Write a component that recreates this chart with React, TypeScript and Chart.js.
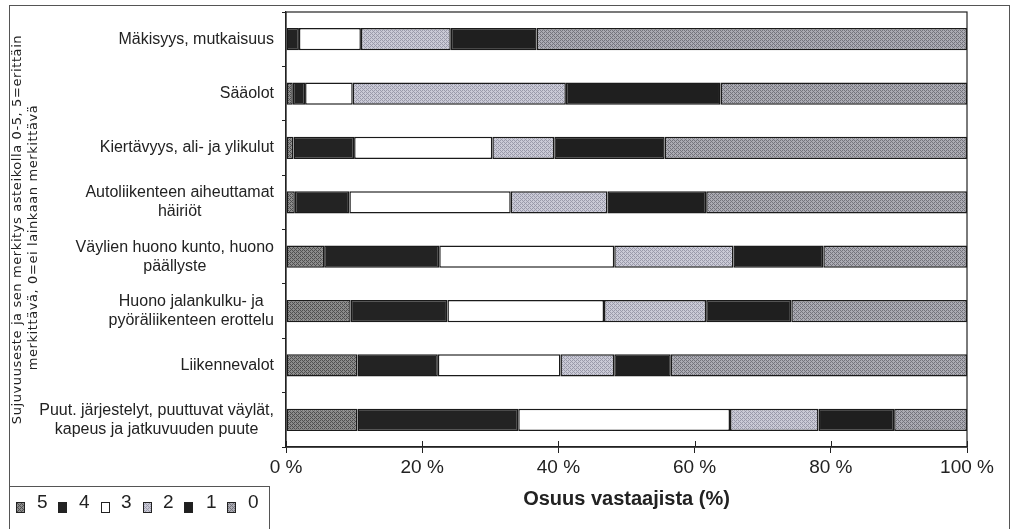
import React, { useEffect, useRef } from "react";
import { Chart, registerables } from "chart.js";

Chart.register(...registerables);

// ---------- data ----------
const categories: string[][] = [
  ["Mäkisyys, mutkaisuus"],
  ["Sääolot"],
  ["Kiertävyys, ali- ja ylikulut"],
  ["Autoliikenteen aiheuttamat", "häiriöt"],
  ["Väylien huono kunto, huono", "päällyste"],
  ["Huono jalankulku- ja", "pyöräliikenteen erottelu"],
  ["Liikennevalot"],
  ["Puut. järjestelyt, puuttuvat väylät,", "kapeus ja jatkuvuuden puute"],
];
const seriesNames = ["5", "4", "3", "2", "1", "0"];
const s5 = [0, 1.0, 1.1, 1.3, 5.6, 9.5, 10.5, 10.5];
const s4 = [1.9, 1.8, 8.9, 8.0, 16.9, 14.2, 11.8, 23.6];
const s3 = [9.1, 7.0, 20.3, 23.7, 25.7, 23.0, 18.0, 31.1];
const s2 = [13.2, 31.3, 9.1, 14.2, 17.5, 15.0, 7.9, 13.0];
const s1 = [12.6, 22.7, 16.2, 14.5, 13.2, 12.5, 8.3, 11.1];
const s0 = [63.2, 36.2, 44.4, 38.3, 21.1, 25.8, 43.5, 10.7];
const xTickLabels = ["0 %", "20 %", "40 %", "60 %", "80 %", "100 %"];
const xTitle = "Osuus vastaajista (%)";
const yTitle = [
  "Sujuvuuseste ja sen merkitys asteikolla 0-5, 5=erittäin",
  "merkittävä, 0=ei lainkaan merkittävä",
];

function makePattern(base: string, dot: string): CanvasPattern | string {
  const c = document.createElement("canvas");
  c.width = 4;
  c.height = 4;
  const g = c.getContext("2d");
  if (!g) return base;
  g.fillStyle = base;
  g.fillRect(0, 0, 4, 4);
  g.fillStyle = dot;
  g.fillRect(0, 0, 1, 1);
  g.fillRect(2, 2, 1, 1);
  g.fillRect(2, 0, 1, 1);
  g.fillRect(0, 2, 1, 1);
  g.fillRect(1, 3, 1, 1);
  g.fillRect(3, 1, 1, 1);
  const p = g.createPattern(c, "repeat");
  return p || base;
}

const FONT = '"Liberation Sans", Arial, sans-serif';

export default function App() {
  const ref = useRef<HTMLCanvasElement | null>(null);

  useEffect(() => {
    if (!ref.current) return;
    const fills = [
      makePattern("#8c8c8c", "#505050"),
      "#232323",
      "#ffffff",
      makePattern("#cacad6", "#9a9aaa"),
      "#1f1f1f",
      makePattern("#ababb3", "#74747c"),
    ];
    const seriesData = [s5, s4, s3, s2, s1, s0];

    const overlay = {
      id: "overlay",
      afterDraw(chart: any) {
        const ctx = chart.ctx as CanvasRenderingContext2D;
        const area = chart.chartArea;
        const yScale = chart.scales.y;
        const xScale = chart.scales.x;
        ctx.save();
        // outer frame
        ctx.strokeStyle = "#555";
        ctx.lineWidth = 1;
        ctx.strokeRect(9.5, 5.5, 1000, 540);
        // plot frame
        ctx.strokeStyle = "#222";
        ctx.lineWidth = 1.2;
        ctx.strokeRect(area.left, area.top, area.right - area.left, area.bottom - area.top);
        // inner x ticks
        ctx.lineWidth = 1;
        xScale.ticks.forEach((t: any) => {
          const px = Math.round(xScale.getPixelForValue(t.value)) + 0.5;
          ctx.beginPath();
          ctx.moveTo(px, area.bottom - 6);
          ctx.lineTo(px, area.bottom);
          ctx.stroke();
        });
        // category labels
        ctx.fillStyle = "#222";
        ctx.font = "16px " + FONT;
        ctx.textBaseline = "middle";
        ctx.textAlign = "center";
        const rightEdge = 274;
        const lh = 19;
        categories.forEach((lines, i) => {
          const cy = yScale.getPixelForValue(i);
          const w = Math.max(...lines.map((l) => ctx.measureText(l).width));
          const cx = rightEdge - w / 2;
          const y0 = cy - ((lines.length - 1) * lh) / 2;
          lines.forEach((l, j) => ctx.fillText(l, cx, y0 + j * lh));
        });
        // y title
        ctx.save();
        ctx.font = "13px " + '"DejaVu Sans", sans-serif';
        (ctx as any).letterSpacing = "0.6px";
        ctx.fillStyle = "#222";
        ctx.textAlign = "center";
        ctx.textBaseline = "middle";
        const cyT = (area.top + area.bottom) / 2;
        ctx.translate(18, cyT);
        ctx.rotate(-Math.PI / 2);
        ctx.fillText(yTitle[0], 0, 0);
        ctx.fillText(yTitle[1], -8, 16);
        ctx.restore();
        // legend box
        ctx.fillStyle = "#fff";
        ctx.fillRect(10, 487, 259, 45);
        ctx.strokeStyle = "#555";
        ctx.lineWidth = 1;
        ctx.strokeRect(9.5, 486.5, 260, 50);
        const swX = [16, 58, 101, 143, 184, 227];
        const txX = [37, 79, 121, 163, 206, 248];
        seriesNames.forEach((n, i) => {
          ctx.fillStyle = fills[i] as any;
          ctx.fillRect(swX[i], 502, 9, 11);
          ctx.strokeStyle = "#222";
          ctx.strokeRect(swX[i] + 0.5, 502.5, 8, 10);
          ctx.fillStyle = "#222";
          ctx.font = "19px " + FONT;
          ctx.textAlign = "left";
          ctx.textBaseline = "alphabetic";
          ctx.fillText(n, txX[i], 508);
        });
        ctx.restore();
      },
    };

    const chart = new Chart(ref.current, {
      type: "bar",
      data: {
        labels: categories as any,
        datasets: seriesNames.map((n, i) => ({
          label: n,
          data: seriesData[i],
          backgroundColor: fills[i] as any,
          borderColor: "#1a1a1a",
          borderWidth: 1.5,
          borderSkipped: false,
          categoryPercentage: 1,
          barPercentage: 0.41,
        })),
      },
      options: {
        indexAxis: "y",
        animation: false,
        responsive: false,
        maintainAspectRatio: false,
        layout: { padding: { left: 0, top: 12, right: 54, bottom: 0 } },
        plugins: {
          legend: { display: false },
          tooltip: { enabled: false },
        },
        scales: {
          x: {
            type: "linear",
            stacked: true,
            min: 0,
            max: 100,
            ticks: {
              stepSize: 20,
              color: "#222",
              font: { size: 19, family: FONT },
              padding: 3,
              callback: (_v: any, idx: number) => xTickLabels[idx],
            },
            grid: { drawOnChartArea: false, drawTicks: true, tickLength: 6, color: "#222" },
            border: { display: true, color: "#222", width: 1.5 },
            title: {
              display: true,
              text: xTitle,
              color: "#222",
              font: { size: 20, weight: "bold", family: FONT },
              padding: { top: 0, bottom: 18 },
            },
            afterFit: (s: any) => {
              s.height = 82;
            },
          },
          y: {
            type: "category",
            stacked: true,
            offset: true,
            ticks: { display: false },
            grid: { drawOnChartArea: false, offset: true, drawTicks: true, tickLength: 4, color: "#222" },
            border: { display: true, color: "#222", width: 1.2 },
            afterFit: (s: any) => {
              s.width = 286;
            },
          },
        },
      },
      plugins: [overlay],
    });
    return () => chart.destroy();
  }, []);

  return (
    <div style={{ position: "fixed", left: 0, top: 0, width: 1021, height: 529, background: "#fff" }}>
      <canvas ref={ref} width={1021} height={529} style={{ display: "block" }} />
    </div>
  );
}
